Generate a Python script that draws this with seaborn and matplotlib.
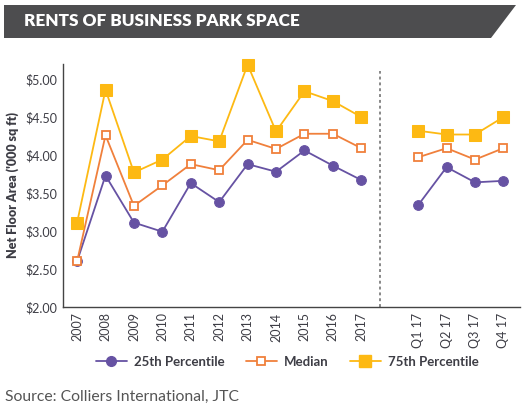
import numpy as np
import pandas as pd
import matplotlib
matplotlib.use('Agg')
import matplotlib.pyplot as plt
from matplotlib.patches import Polygon
from matplotlib.lines import Line2D
import seaborn as sns

# data
years = ['2007', '2008', '2009', '2010', '2011', '2012', '2013', '2014', '2015', '2016', '2017']
quarters = ['Q1 17', 'Q2 17', 'Q3 17', 'Q4 17']

p25_years = [2.60, 3.73, 3.11, 2.99, 3.63, 3.38, 3.88, 3.78, 4.06, 3.86, 3.67]
median_years = [2.60, 4.26, 3.33, 3.60, 3.88, 3.80, 4.20, 4.08, 4.28, 4.28, 4.09]
p75_years = [3.11, 4.86, 3.77, 3.94, 4.25, 4.18, 5.19, 4.31, 4.84, 4.71, 4.50]

p25_quarters = [3.34, 3.84, 3.64, 3.66]
median_quarters = [3.97, 4.09, 3.94, 4.09]
p75_quarters = [4.32, 4.27, 4.27, 4.50]

yticks = [2.0, 2.5, 3.0, 3.5, 4.0, 4.5, 5.0]

sns.set_style('white')
plt.rcParams['font.family'] = ['Lato', 'DejaVu Sans']

purple = '#6652a3'
orange = '#f0803c'
gold = '#fdb913'
txt = '#3d3d45'

# positions: years 0..10, gap, quarters 12..15
year_pos = list(range(len(years)))
quarter_pos = [12 + i for i in range(len(quarters))]

rows = []
for seg, pos, vals in [('y', year_pos, [p25_years, median_years, p75_years]),
                       ('q', quarter_pos, [p25_quarters, median_quarters, p75_quarters])]:
    for name, v in zip(['25th Percentile', 'Median', '75th Percentile'], vals):
        for x, val in zip(pos, v):
            rows.append({'pos': x, 'value': val, 'series': name, 'seg': seg})
df = pd.DataFrame(rows)

styles = {
    '25th Percentile': dict(color=purple, marker='o', markersize=7, markerfacecolor=purple, markeredgecolor=purple),
    'Median': dict(color=orange, marker='s', markersize=6.3, markerfacecolor='white', markeredgecolor=orange, markeredgewidth=1.3),
    '75th Percentile': dict(color=gold, marker='s', markersize=8, markerfacecolor=gold, markeredgecolor=gold),
}

fig = plt.figure(figsize=(5.22, 4.07), dpi=100)
ax = fig.add_axes([0.121, 0.246, 0.875, 0.597])

for name in ['25th Percentile', 'Median', '75th Percentile']:
    for seg in ['y', 'q']:
        d = df[(df.series == name) & (df.seg == seg)]
        sns.lineplot(data=d, x='pos', y='value', ax=ax, linewidth=1.3, legend=False, **styles[name])
for ln in ax.lines:
    ln.set_clip_on(False)

ax.axvline(10.66, ymax=0.97, color='#888888', linestyle=(0, (1.5, 1.5)), linewidth=1.4)

ax.set_xlim(-0.49, 15.58)
ax.set_ylim(2.0, 5.2)
ax.set_xticks(year_pos + quarter_pos)
ax.set_xticklabels(years + quarters, rotation=90, fontsize=9, color=txt)
ax.set_yticks(yticks)
ax.set_yticklabels(['${:.2f}'.format(t) for t in yticks], fontsize=9, color=txt)
ax.tick_params(axis='both', length=0, pad=4)
ax.set_xlabel('')
ax.set_ylabel("Net Floor Area ('000 sq ft)", fontsize=9, fontweight='heavy', color=txt, labelpad=5)
for s in ['top', 'right']:
    ax.spines[s].set_visible(False)
for s in ['left', 'bottom']:
    ax.spines[s].set_color('#444444')
    ax.spines[s].set_linewidth(1.0)

# title banner
W, H = 522, 407
pts = [(4, 5), (516, 5), (491, 38), (4, 38)]
banner = Polygon([(x / W, 1 - y / H) for x, y in pts], closed=True,
                 transform=fig.transFigure, facecolor='#4d4d4f', edgecolor='none')
fig.patches.append(banner)
fig.text(24 / W, 1 - 21.5 / H, 'RENTS OF BUSINESS PARK SPACE', color='white',
         fontsize=12.3, fontweight='heavy', va='center', ha='left')

handles = [Line2D([0], [0], linewidth=1.3, **styles[n]) for n in ['25th Percentile', 'Median', '75th Percentile']]
leg = fig.legend(handles, ['25th Percentile', 'Median', '75th Percentile'], loc='center',
                 bbox_to_anchor=(0.55, 1 - 362 / H), ncol=3, frameon=False, fontsize=9.5,
                 handlelength=2.4, columnspacing=1.6, handletextpad=0.5)
for t in leg.get_texts():
    t.set_color(txt)
    t.set_fontweight('bold')

fig.text(5 / W, 1 - 397 / H, 'Source: Colliers International, JTC', fontsize=11.3,
         color='#555555', va='center', ha='left')

fig.savefig('out.png', dpi=100)
